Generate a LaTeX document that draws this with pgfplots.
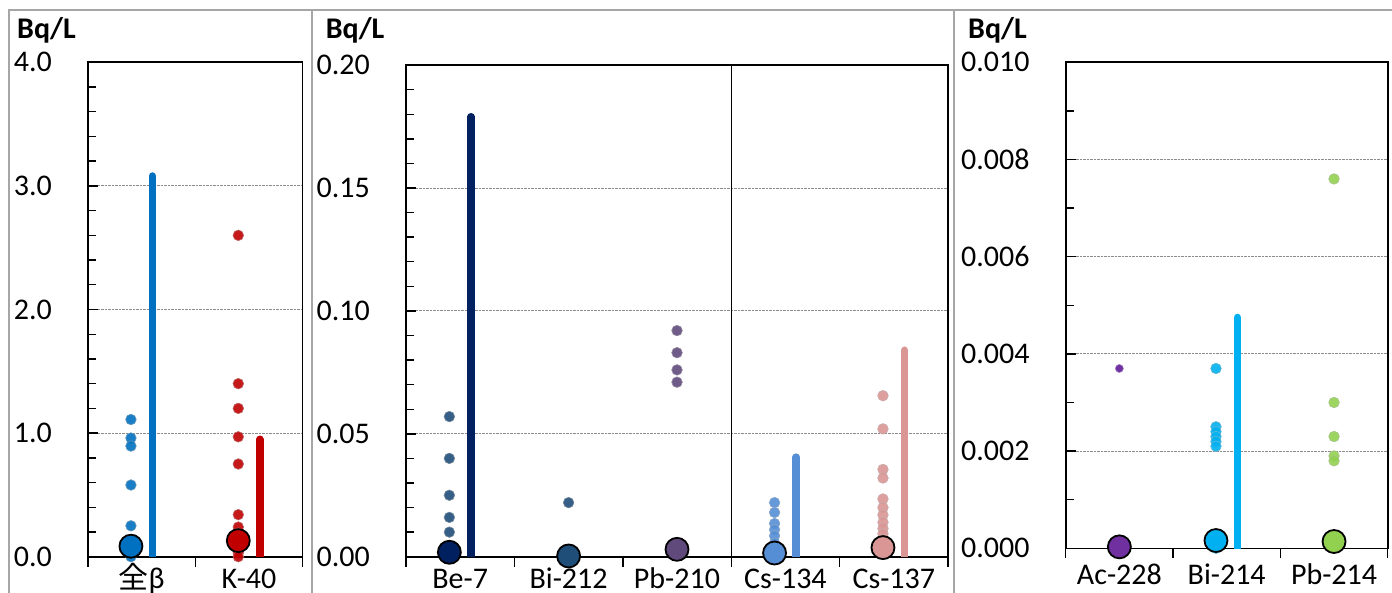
\documentclass[border=0pt]{standalone}
\usepackage{pgfplots}
\pgfplotsset{compat=1.18}
\usepackage{fontspec}
\setmainfont{Carlito}
\newfontfamily\cjk{Noto Sans CJK JP}

\definecolor{cBeta}{HTML}{0070C0}
\definecolor{cK}{HTML}{C00000}
\definecolor{cBe}{HTML}{002060}
\definecolor{cBeDot}{HTML}{1F4E79}
\definecolor{cBi212}{HTML}{1F4E79}
\definecolor{cPb210}{HTML}{604A7B}
\definecolor{cCs134}{HTML}{558ED5}
\definecolor{cCs137}{HTML}{DA9694}
\definecolor{cAc}{HTML}{7030A0}
\definecolor{cBi214}{HTML}{00B0F0}
\definecolor{cPb214}{HTML}{92D050}
\definecolor{panelframe}{HTML}{A6A6A6}

\newcommand{\tf}{\fontsize{30}{36}\selectfont}

\pgfplotsset{
  panel/.style={
    scale only axis,
    anchor=south west,
    axis line style={black, line width=1.6pt},
    xtick align=outside, ytick align=inside,
    tick style={black, line width=1.4pt},
    major tick length=10pt, minor tick length=8pt,
    xtick pos=bottom, ytick pos=left,
    ymajorgrids,
    major grid style={densely dotted, black!45, line width=0.8pt},
    scaled y ticks=false,
    /pgf/number format/assume math mode=true,
    yticklabel style={anchor=east, inner sep=0pt, xshift=-36pt, font=\tf},
    xticklabels={},
    extra x tick style={major tick length=0pt, grid=none,
      xticklabel style={anchor=base, inner sep=0pt, yshift=-32pt, font=\tf}},
    ymin=0,
  },
  dot/.style={only marks, mark=*, mark size=5.3pt,
    mark options={fill=#1, draw=#1!75!black!60!white, line width=0.6pt, fill opacity=0.9}},
  bigdot/.style={only marks, mark=*, mark size=11.5pt,
    mark options={fill=#1, draw=black, line width=1.8pt}},
  rangebar/.style={draw=#1, line width=7.5pt, line cap=round, mark=none},
}

\begin{document}
\begin{tikzpicture}[font=\tf]

% panel frames
\draw[panelframe, line width=2pt] (9pt,-5pt) -- (9pt,582pt) -- (1400pt,582pt);
\draw[panelframe, line width=2pt] (311.7pt,-5pt) -- (311.7pt,582pt);
\draw[panelframe, line width=2pt] (954pt,-5pt) -- (954pt,582pt);

\node[anchor=base west, inner sep=0pt, font=\bfseries\tf] at (17pt,553pt) {Bq/L};
\node[anchor=base west, inner sep=0pt, font=\bfseries\tf] at (325.7pt,553pt) {Bq/L};
\node[anchor=base west, inner sep=0pt, font=\bfseries\tf] at (968pt,553pt) {Bq/L};

% ---------------- Panel 1 ----------------
\begin{axis}[panel,
  at={(88pt,35.3pt)}, width=214.7pt, height=494.4pt,
  xmin=-0.5, xmax=1.5, ymax=4,
  xtick={-0.5,0.5,1.5},
  extra x ticks={0,1},
  extra x tick labels={{\cjk 全}β, K-40},
  ytick={0,1,2,3,4}, minor y tick num=4,
  yticklabel style={/pgf/number format/.cd, fixed, fixed zerofill, precision=1},
]
\addplot[rangebar=cBeta] coordinates {(0.1,0) (0.1,3.08)};
\addplot[rangebar=cK] coordinates {(1.1,0) (1.1,0.95)};
\addplot[dot=cBeta] coordinates {(-0.1,1.11) (-0.1,0.96) (-0.1,0.895) (-0.1,0.58) (-0.1,0.25) (-0.1,0.04) (-0.1,0.0)};
\addplot[dot=cK] coordinates {(0.9,2.60) (0.9,1.40) (0.9,1.20) (0.9,0.97) (0.9,0.75) (0.9,0.34) (0.9,0.24) (0.9,0.19) (0.9,0.15) (0.9,0.10) (0.9,0.06) (0.9,0.03) (0.9,0.0)};
\addplot[bigdot=cBeta] coordinates {(-0.1,0.085)};
\addplot[bigdot=cK] coordinates {(0.9,0.13)};
\end{axis}

% ---------------- Panel 2 ----------------
\begin{axis}[panel,
  at={(406pt,35.3pt)}, width=542pt, height=491.6pt,
  xmin=-0.5, xmax=4.5, ymax=0.2,
  xtick={-0.5,0.5,1.5,2.5,3.5,4.5},
  extra x ticks={0,1,2,3,4},
  extra x tick labels={Be-7, Bi-212, Pb-210, Cs-134, Cs-137},
  ytick={0,0.05,0.1,0.15,0.2}, minor y tick num=4,
  yticklabel style={/pgf/number format/.cd, fixed, fixed zerofill, precision=2},
]
\draw[black, line width=1.4pt] (axis cs:2.5,0) -- (axis cs:2.5,0.2);
\addplot[rangebar=cBe] coordinates {(0.1,0) (0.1,0.179)};
\addplot[rangebar=cCs134] coordinates {(3.1,0) (3.1,0.0405)};
\addplot[rangebar=cCs137] coordinates {(4.1,0) (4.1,0.084)};
\addplot[dot=cBeDot] coordinates {(-0.1,0.057) (-0.1,0.040) (-0.1,0.025) (-0.1,0.016) (-0.1,0.010)};
\addplot[dot=cBi212] coordinates {(1,0.022)};
\addplot[dot=cPb210] coordinates {(2,0.092) (2,0.083) (2,0.076) (2,0.071)};
\addplot[dot=cCs134] coordinates {(2.9,0.022) (2.9,0.018) (2.9,0.0135) (2.9,0.011) (2.9,0.0085) (2.9,0.0055) (2.9,0.003)};
\addplot[dot=cCs137] coordinates {(3.9,0.0655) (3.9,0.052) (3.9,0.0355) (3.9,0.032) (3.9,0.0235) (3.9,0.020) (3.9,0.017) (3.9,0.014) (3.9,0.0115) (3.9,0.0093) (3.9,0.007) (3.9,0.0048) (3.9,0.002)};
\addplot[bigdot=cBe] coordinates {(-0.1,0.0018)};
\addplot[bigdot=cBi212] coordinates {(1,0.0003)};
\addplot[bigdot=cPb210] coordinates {(2,0.003)};
\addplot[bigdot=cCs134] coordinates {(2.9,0.0015)};
\addplot[bigdot=cCs137] coordinates {(3.9,0.0037)};
\end{axis}

% ---------------- Panel 3 ----------------
\begin{axis}[panel,
  at={(1065.7pt,43.7pt)}, width=322pt, height=486pt,
  xmin=-0.5, xmax=2.5, ymax=0.01,
  xtick={-0.5,0.5,1.5,2.5},
  extra x ticks={0,1,2},
  extra x tick labels={Ac-228, Bi-214, Pb-214},
  extra x tick style={xticklabel style={yshift=-4pt}},
  ytick={0,0.002,0.004,0.006,0.008,0.01}, minor y tick num=1,
  yticklabel style={/pgf/number format/.cd, fixed, fixed zerofill, precision=3},
]
\addplot[rangebar=cBi214] coordinates {(1.1,0) (1.1,0.00475)};
\addplot[only marks, mark=*, mark size=4pt, mark options={fill=cAc, draw=cAc!65!white, line width=0.6pt}] coordinates {(0,0.0037)};
\addplot[dot=cBi214] coordinates {(0.9,0.0037) (0.9,0.0025) (0.9,0.0024) (0.9,0.0023) (0.9,0.0022) (0.9,0.0021) (0.9,0.0)};
\addplot[dot=cPb214] coordinates {(2,0.0076) (2,0.0030) (2,0.0023) (2,0.0019) (2,0.0018) (2,0.0)};
\addplot[bigdot=cAc] coordinates {(0,0.00003)};
\addplot[bigdot=cBi214] coordinates {(0.9,0.00016)};
\addplot[bigdot=cPb214] coordinates {(2,0.00014)};
\end{axis}

\pgfresetboundingbox
\path[use as bounding box] (0,0) rectangle (1392pt,592pt);
\end{tikzpicture}
\end{document}
